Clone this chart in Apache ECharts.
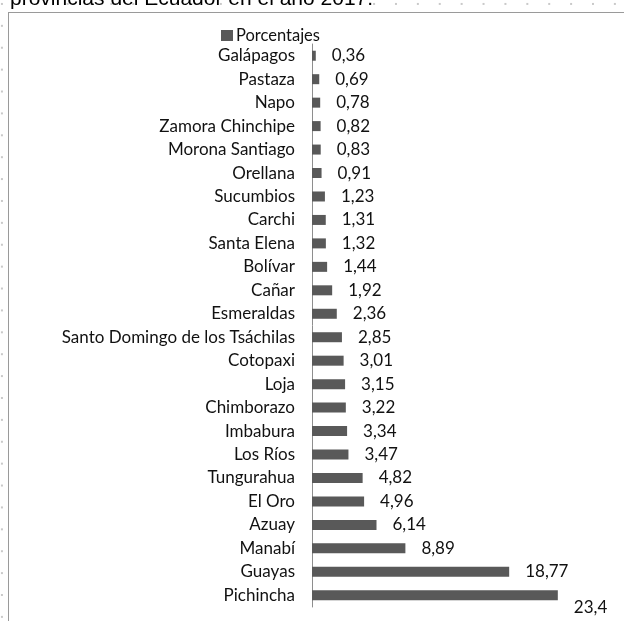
<!DOCTYPE html>
<html>
<head>
<meta charset="utf-8">
<title>Porcentajes por provincia</title>
<script src="https://cdn.jsdelivr.net/npm/echarts@6/dist/echarts.min.js"></script>
<style>
  html, body { margin: 0; padding: 0; width: 624px; height: 621px; overflow: hidden; }
  body {
    background-color: #fff;
    background-image: radial-gradient(circle, #c9c9c9 0.9px, rgba(255,255,255,0) 1.3px);
    background-size: 21.9px 21.9px;
    background-position: -9px -7px;
  }
  #frame {
    position: absolute; left: 8px; top: 12px; width: 800px; height: 800px;
    background: #fff; border: 1px solid #9a9a9a;
  }
  #chart { position: absolute; left: 0; top: 0; width: 624px; height: 621px; }
</style>
</head>
<body>
<div id="frame"></div>
<div id="chart"></div>
<script>
// Provinces, listed top to bottom
const provincias = [
  'Galápagos', 'Pastaza', 'Napo', 'Zamora Chinchipe', 'Morona Santiago',
  'Orellana', 'Sucumbios', 'Carchi', 'Santa Elena', 'Bolívar', 'Cañar',
  'Esmeraldas', 'Santo Domingo de los Tsáchilas', 'Cotopaxi', 'Loja',
  'Chimborazo', 'Imbabura', 'Los Ríos', 'Tungurahua', 'El Oro', 'Azuay',
  'Manabí', 'Guayas', 'Pichincha'
];

// Share of each province (%)
const porcentajes = [
  0.36, 0.69, 0.78, 0.82, 0.83, 0.91, 1.23, 1.31, 1.32, 1.44, 1.92,
  2.36, 2.85, 3.01, 3.15, 3.22, 3.34, 3.47, 4.82, 4.96, 6.14,
  8.89, 18.77, 23.4
];

const serieNombre = 'Porcentajes';
const titulo = 'provincias del Ecuador en el año 2017.';

const fuente = 'Lato, "Noto Sans", sans-serif';
const coma = v => String(v).replace('.', ',');

// The last bar's label sits below its bar end
const datos = porcentajes.map((v, i) => i === porcentajes.length - 1
  ? { value: v, label: { offset: [0, 12] } }
  : v);

const chart = echarts.init(document.getElementById('chart'), null, { renderer: 'canvas' });

chart.setOption({
  animation: false,
  backgroundColor: 'transparent',
  graphic: [{
    type: 'text',
    left: 10,
    top: -11,
    style: {
      text: titulo,
      font: '21px "Liberation Sans", Arial, sans-serif',
      fill: '#000'
    }
  }],
  legend: {
    data: [serieNombre],
    left: 216,
    top: 22,
    itemWidth: 12,
    itemHeight: 11,
    itemGap: 4,
    icon: 'rect',
    textStyle: { fontFamily: fuente, fontSize: 16.5, color: '#111', padding: [0, 0, 0, -2] }
  },
  grid: { left: 312, top: 44, width: 312, height: 563, containLabel: false },
  xAxis: {
    type: 'value',
    min: 0,
    max: 29.7,
    show: false
  },
  yAxis: {
    type: 'category',
    data: provincias,
    inverse: true,
    axisTick: { show: false },
    axisLine: { show: true, lineStyle: { color: '#8e8e8e', width: 1 } },
    axisLabel: { margin: 17, fontFamily: fuente, fontSize: 17, color: '#111' }
  },
  series: [{
    name: serieNombre,
    type: 'bar',
    data: datos,
    barWidth: 10,
    itemStyle: { color: '#595959' },
    label: {
      show: true,
      position: 'right',
      distance: 16,
      fontFamily: fuente,
      fontSize: 17,
      color: '#111',
      formatter: p => coma(p.value)
    }
  }]
});
</script>
</body>
</html>
